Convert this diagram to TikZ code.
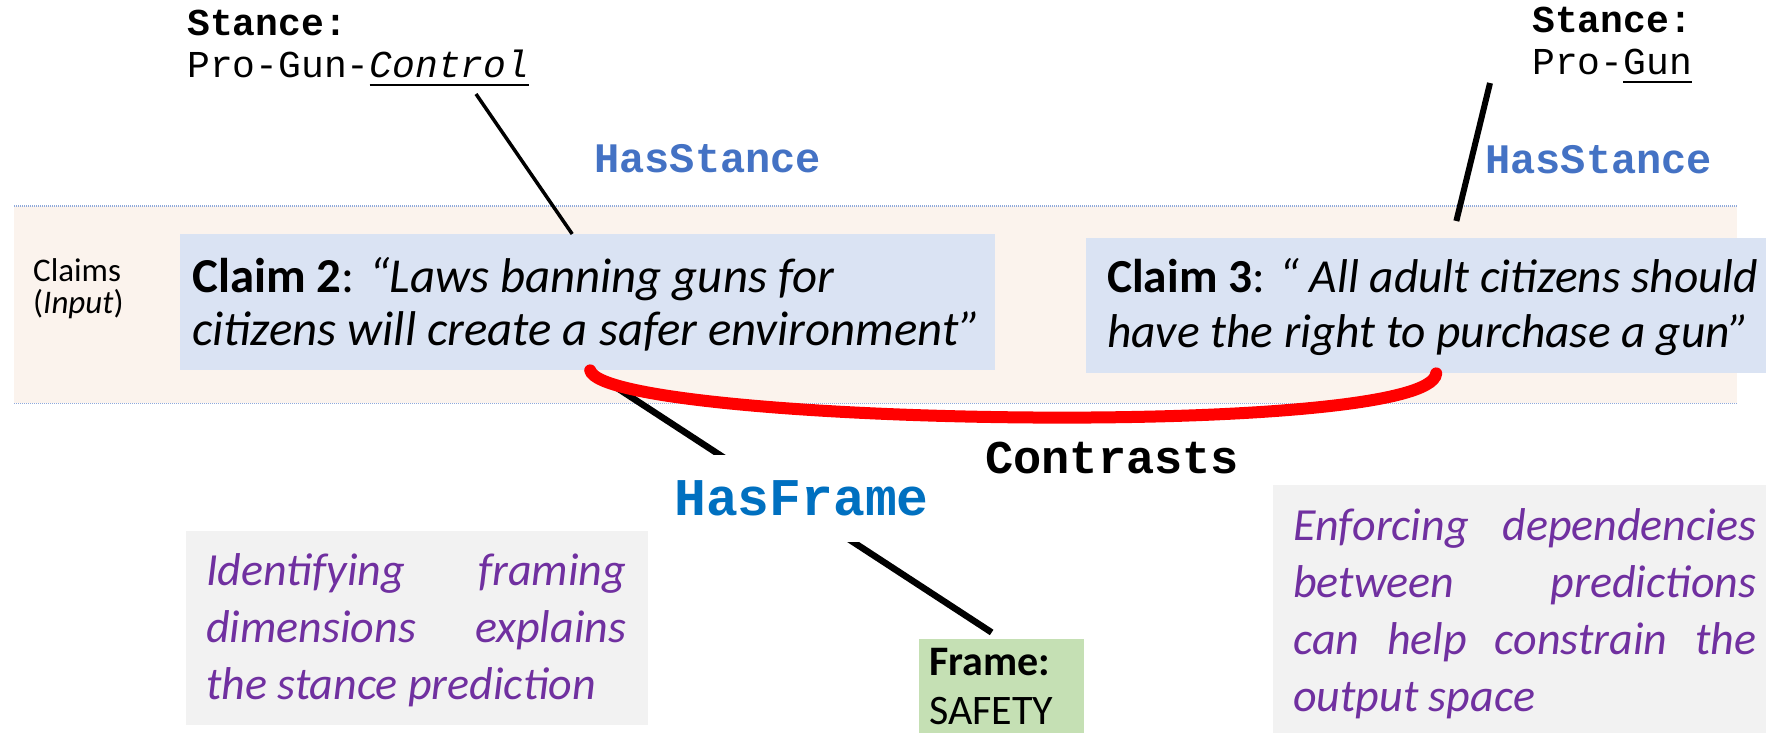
\documentclass[tikz,border=0pt]{standalone}
\usepackage{fontspec}
\setmainfont{Carlito}
\newfontfamily\monof{Liberation Mono}
\usetikzlibrary{calc}
\definecolor{stanceblue}{HTML}{4472C4}
\definecolor{frameblue}{HTML}{0070C0}
\definecolor{claimfill}{HTML}{DAE3F3}
\definecolor{bandfill}{HTML}{FBF3ED}
\definecolor{notefill}{HTML}{F2F2F2}
\definecolor{notepurple}{HTML}{7030A0}
\definecolor{framegreen}{HTML}{C5E0B4}
\definecolor{dotblue}{HTML}{8EA9DB}
\newcommand\myul[1]{\setbox0\hbox{#1}\rlap{\raisebox{-8pt}{\rule{\wd0}{2.4pt}}}\box0}
\begin{document}
\begin{tikzpicture}[x=1pt,y=-1pt,
  boxnode/.style={inner sep=0, anchor=north west, draw=none},
  claimbox/.style={boxnode, fill=claimfill},
  notebox/.style={boxnode, fill=notefill},
  txt/.style={inner sep=0, anchor=base west},
  notetxt/.style={txt, text=notepurple, font=\itshape},
  stancetxt/.style={txt, font=\monof\fontsize{38}{42}\selectfont},
  relblue/.style={txt, font=\monof\bfseries\fontsize{42}{48}\selectfont, text=stanceblue},
  dotline/.style={draw=dotblue, line width=1.3pt, dash pattern=on 1pt off 1pt},
  thinlink/.style={draw=black, line width=3.5pt},
  thicklink/.style={draw=black, line width=6pt},
  contrastline/.style={draw=red, line width=12pt, line cap=round}
]
\useasboundingbox (0,0) rectangle (1766,733);

% band of claims
\node[boxnode, fill=bandfill, minimum width=1723pt, minimum height=197pt] (band) at (14,206) {};
\draw[dotline] (band.north west) -- (band.north east);
\draw[dotline] (band.south west) -- (band.south east);
\node[txt] (claimslbl) at (33,281)
  {\parbox[t]{120pt}{\fontsize{33}{32}\selectfont Claims\\(\textit{Input})}};

% stances
\node[stancetxt] (stL1) at (187,36) {\bfseries Stance:};
\node[stancetxt] (stL2) at (187,78) {Pro-Gun-\myul{\textit{Control}}};
\node[stancetxt] (stR1) at (1532,33) {\bfseries Stance:};
\node[stancetxt] (stR2) at (1532,75) {Pro-\myul{Gun}};
\node[relblue] (hsL) at (594,172) {HasStance};
\node[relblue] (hsR) at (1485,173) {HasStance};
\coordinate (aL) at (476,94);
\coordinate (aR) at (1490,83);

% claims
\node[claimbox, minimum width=815pt, minimum height=136pt] (c2) at (180,234) {};
\node[txt] (c2t) at (192,292) {\parbox[t]{800pt}{\fontsize{48.8}{53}\selectfont
  \textbf{Claim 2}: \textit{“Laws banning guns for}\\
  \textit{citizens will create a safer environment"}}};
\node[claimbox, minimum width=732pt, minimum height=135pt] (c3) at (1086,238) {};
\node[txt] (c3t) at (1107,292) {\parbox[t]{700pt}{\fontsize{47.4}{55}\selectfont
  \textbf{Claim 3}: \textit{“ All adult citizens should}\\
  \textit{have the right to purchase a gun”}}};

% frame box
\node[boxnode, fill=framegreen, minimum width=165pt, minimum height=120pt] (fr) at (919,639) {};
\node[txt] (frt) at (929,675) {\parbox[t]{150pt}{\fontsize{42}{49}\selectfont
  \textbf{Frame:}\\SAFETY}};

% stance links
\draw[thinlink] (aL) -- ([xshift=-15.5pt]c2.north);
\draw[thicklink, shorten >=17.5pt] (aR) -- (c3.north);

% frame link
\draw[line width=6.5pt, shorten >=12pt] ([xshift=2.5pt]c2.south) -- (fr.north);

% contrast link
\draw[contrastline] ([xshift=2.5pt]c2.south) .. controls (605,425) and (1430,440) .. ([xshift=-16pt]c3.south);

\node[inner sep=0, anchor=base, fill=white, text height=60pt, text depth=27pt,
  font=\monof\bfseries\fontsize{53}{58}\selectfont, text=frameblue] (hf) at (801.5,515) {HasFrame};
\node[txt, font=\monof\bfseries\fontsize{47}{52}\selectfont] (ct) at (985,473) {Contrasts};

% notes
\node[notebox, minimum width=462pt, minimum height=194pt] (nL) at (186,531) {};
\node[notetxt] (nLt) at (206,585) {\parbox[t]{420pt}{\fontsize{46}{57}\selectfont
  \makebox[420pt][s]{Identifying framing}\\
  \makebox[420pt][s]{dimensions explains}\\
  the stance prediction}};
\node[notebox, minimum width=500pt, minimum height=260pt] (nR) at (1273,485) {};
\node[notetxt] (nRt) at (1293,540) {\parbox[t]{463pt}{\fontsize{46}{57}\selectfont
  \makebox[463pt][s]{Enforcing dependencies}\\
  \makebox[463pt][s]{between predictions}\\
  \makebox[463pt][s]{can help constrain the}\\
  output space}};
\end{tikzpicture}
\end{document}
